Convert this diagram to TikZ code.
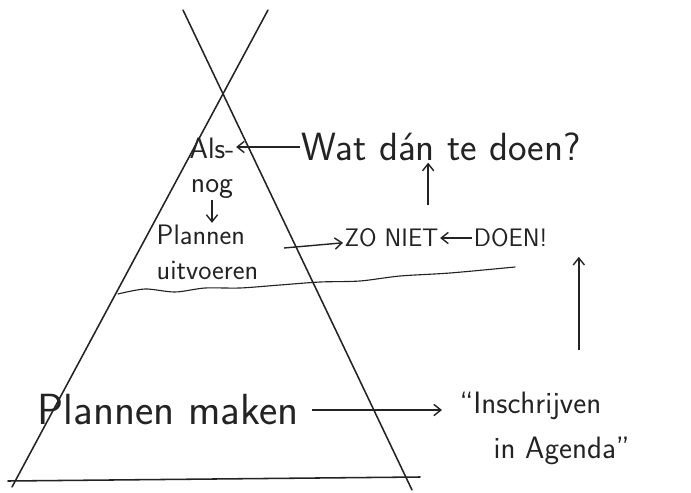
\documentclass[tikz,border=0pt]{standalone}
\usepackage{tikz}
\usetikzlibrary{arrows.meta,positioning,calc}
\definecolor{inkGray}{RGB}{35,35,35}

\begin{document}
\begin{tikzpicture}[
  x=0.025cm, y=-0.025cm,
  %% Handwritten label (2 args: size, baselineskip)
  hand/.style 2 args={
    text=inkGray,
    font=\sffamily\fontsize{#1}{#2}\selectfont,
    inner sep=1pt
  },
  %% Tipi poles and ground
  pole/.style={line width=1.1pt, inkGray, line cap=round},
  arr/.style={-{Straight Barb[length=5pt,width=8pt]}, line width=1pt, inkGray}
]
\useasboundingbox (0,0) rectangle (691,493);

%% ---- Tipi ----
\coordinate (poleA)   at (183,10);
\coordinate (poleB)   at (268,10);
\coordinate (footA)   at (412,490);
\coordinate (footB)   at (12,487);
\coordinate (groundL) at (8,481);
\coordinate (groundR) at (420,477);
\draw[pole] (poleA) -- (footA);
\draw[pole] (poleB) -- (footB);
\draw[pole] (groundL) -- (groundR);

%% ---- Wavy line ----
\draw[pole, line width=0.8pt] plot[smooth] coordinates
  {(118,294) (145,289) (175,292) (205,288) (240,288) (280,285)
   (320,282) (360,281) (400,276) (450,273) (515,267)};

%% ---- Labels ----
\node[hand={28}{30}, anchor=west] (wat) at (300,147) {Wat dán te doen?};
\node[hand={21}{24}, align=center] (als) at (212,168) {Als-\\nog};
\node[hand={20}{25}, align=left, anchor=west] (plan) at (155,252)
  {Plannen\\uitvoeren};
\node[hand={18}{20}, anchor=west] (zoniet) at (343,238) {ZO NIET};
\node[hand={18}{20}, right=0.8cm of zoniet] (doen) {DOEN!};
\node[hand={31}{34}, anchor=west] (maken) at (36,410) {Plannen maken};
\node[hand={22}{32}, align=left, anchor=west] (agenda) at (458,428)
  {``Inschrijven\\\hspace{1.1em}in Agenda''};

%% ---- Arrows ----
\draw[arr] (wat.west) -- (wat.west -| als.east);
\draw[arr] (als.south) -- (als.south |- plan.north);
\draw[arr] ([xshift=6mm,yshift=1mm]plan.east) -- ([yshift=-1.2mm]zoniet.west);
\draw[arr] (doen.west) -- (zoniet.east);
\draw[arr] ($(zoniet.north east)+(-12,-22)$)
  -- ($(zoniet.north east |- wat.south)+(-12,0)$);
\draw[arr] ($(doen.south east |- agenda.north)+(30,-40)$)
  -- ($(doen.south east)+(30,8)$);
\draw[arr] ([xshift=3mm]maken.east) -- ([xshift=-4mm]maken.east -| agenda.west);

\end{tikzpicture}
\end{document}
